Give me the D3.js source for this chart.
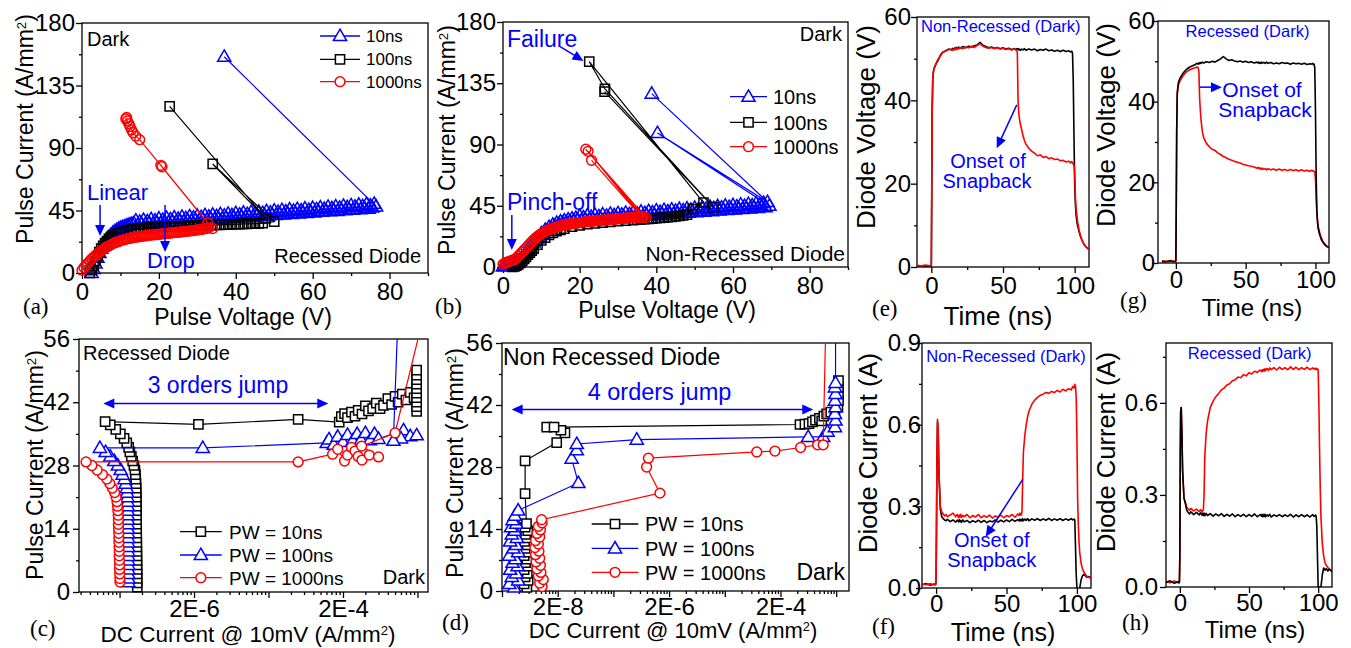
<!DOCTYPE html>
<html>
<head>
<meta charset="utf-8">
<script src="https://cdn.jsdelivr.net/npm/d3@7"></script>
<style>
  body { margin: 0; background: #fff; }
  svg { display: block; }
</style>
</head>
<body>
<svg id="fig" width="1351" height="648"></svg>
<script>
"use strict";

// ---- (a) recessed diode, TLP I-V ----
const aV10 = [2.5,3,3.5,4,4.5,5,5.5,6,6.5,7, 7.5,8,8.5,9,9.5,10,10.5,11,11.5,12,
  12.5,13,13.5,14,14.5,15,15.5,16,16.5,17, 17.5,18,18.5,19,19.5,20,20.5,21,21.5,22,
  22.5,23,23.5,24,24.5,25,25.5,26,26.5,27, 27.5,28,28.5,29,29.5,30,30.5,31,31.5,32,
  32.5,33,33.5,34,34.5,35,35.5,36,36.5,37, 37.5,38,38.5,39,39.5,40,40.5,41,41.5,42,
  42.5,43,43.5,44,44.5,45,45.5,46,46.5,47, 47.5,48,48.5,49,49.5,50,50.5,51,51.5,52,
  52.5,53,53.5,54,54.5,55,55.5,56,56.5,57, 57.5,58,58.5,59,59.5,60,60.5,61,61.5,62,
  62.5,63,63.5,64,64.5,65,65.5,66,66.5,67, 67.5,68,68.5,69,69.5,70,70.5,71,71.5,72,
  72.5,73,73.5,74,74.5,75,75.5,76,76.5,37];
const aI10 = [0,3,7,11,14.5,17.5,20,22.5,24.5,26, 27.5,29,30,31,31.8,32.5,33,33.5,34,34.5,
  35,35.5,35.8,37.8,34.6,36.9,35.5,38.3,35.1,37.4, 36.0,38.8,35.6,37.9,36.5,39.3,36.1,38.3,36.9,39.7,
  36.5,38.7,37.3,40.1,36.9,39.1,37.7,40.5,37.3,39.5, 38.1,40.9,37.7,39.9,38.5,41.3,38.1,40.3,38.9,41.7,
  38.5,40.6,39.2,42.0,38.8,41.0,39.6,42.4,39.2,41.4, 40.0,42.7,39.5,41.7,40.3,43.1,39.9,42.1,40.7,43.5,
  40.3,42.5,41.1,43.9,40.7,42.9,41.5,44.2,41.0,43.2, 41.8,44.6,41.4,43.6,42.2,45.0,41.8,44.0,42.6,45.4,
  42.2,44.4,43.0,45.8,42.6,44.8,43.4,46.1,42.9,45.1, 43.7,46.5,43.3,45.5,44.1,46.9,43.7,45.9,44.5,47.3,
  44.1,46.3,44.9,47.7,44.5,46.7,45.3,48.0,44.8,47.0, 45.6,48.4,45.2,47.4,46.0,48.8,45.6,47.8,46.4,49.2,
  46.0,48.2,46.8,49.6,46.4,48.6,47.2,49.9,48.0,155.7];
const aV100 = [2,2.5,3,3.5,4,4.5,5,5.5,6,6.5, 7,7.5,8,9,10,11,12,13,14,15, 16,17,18,19,20,21,22,23,24,25,
  26,27,28,29,30,31,32,33,34,35, 36,37,38,39,40,41,42,43,44,45, 46,47,50,34,47.8,22.8];
const aI100 = [0,2,5,8.5,12,15,17.5,19.5,21.5,23, 24.5,25.8,27,28.4,29.4,30.2,30.8,31.3,31.7,32,
  32.3,32.5,32.7,32.9,33.1,33.2,33.3,33.4,33.5,33.6, 33.7,33.8,33.9,34,34.1,34.2,34.3,34.4,34.5,34.6,
  34.7,34.8,34.9,35,35.1,35.2,35.3,35.4,35.5,35.6, 35.7,35.9,37,78.5,39.4,120];
const aV1000 = [0,0.5,1,1.5,2,2.5,3,3.5,4,4.5, 5,5.5,6,6.5,7,7.5,8,8.5,9,9.5,
  10,10.5,11,11.5,12,12.5,13,13.5,14,14.5, 15,15.5,16,16.5,17,17.5,18,18.5,19,19.5,
  20,20.5,21,21.5,22,22.5,23,23.5,24,24.5, 25,25.5,26,26.5,27,27.5,28,28.5,29,29.5,
  30,30.5,31,31.5,32,32.5,33,34,32.7,20.8, 20.5,15,14,13.3,12.9,12.5,12.2,11.8,11.4,11.6];
const aI1000 = [2,4,5.5,7,8.5,10,11.3,12.6,13.8,15, 16,17,18,18.8,19.6,20.3,21,21.8,22.2,22.6,
  23.2,23.7,24,24.4,24.7,25.0,25.3,25.5,25.8,26.0, 26.2,26.4,26.6,26.8,27,27.2,27.3,27.5,27.6,27.7,
  27.9,28.0,28.2,28.3,28.5,28.6,28.8,28.9,29.1,29.2, 29.4,29.5,29.7,29.8,30,30.1,30.3,30.5,30.6,30.8,
  31,31.2,31.4,31.6,31.9,32.2,32.5,32,36,76.5, 77.5,96,98.5,101,103,105.5,107.5,109.5,111,112];

// ---- (b) non-recessed diode, TLP I-V ----
const bV10 = [0,0.5,1,1.5,2,2.5,3,3.5,4,4.5, 5,5.5,6,6.5,7,7.5,8,8.5,9,9.5,
  10,10.5,11,11.5,12,12.5,13,13.5,14,14.5, 15,15.5,16,16.5,17,17.5,18,18.5,19,19.5,
  20,20.5,21,21.5,22,22.5,23,23.5,24,24.5, 25,25.5,26,26.5,27,27.5,28,28.5,29,29.5,
  30,30.5,31,31.5,32,32.5,33,33.5,34,34.5, 35,35.5,36,36.5,37,37.5,38,38.5,39,39.5,
  40,40.5,41,41.5,42,42.5,43,43.5,44,44.5, 45,45.5,46,46.5,47,47.5,48,48.5,49,49.5,
  50,50.5,51,51.5,52,52.5,53,53.5,54,54.5, 55,55.5,56,56.5,57,57.5,58,58.5,59,59.5,
  60,60.5,61,61.5,62,62.5,63,63.5,64,64.5, 65,65.5,66,66.5,67,67.5,68,68.5,69.5,40.3,
  69,38.8];
const bI10 = [0.5,0.8,1,1.3,1.6,2,2.6,3.4,4.5,6, 7.5,9.2,11,12.8,14.5,16.3,18,19.5,21,22.5,
  24.8,24.5,27.3,26.8,29.4,28.7,31.1,30.2,32.4,31.4, 33.5,32.3,34.3,33.1,35.0,33.7,35.6,34.3,36.1,34.7,
  37.5,34.3,36.5,35.1,37.9,34.7,36.9,35.5,38.3,35.1, 37.3,35.9,38.7,35.5,37.7,36.3,39.1,35.9,38.1,36.7,
  39.5,36.3,38.5,37.1,39.9,36.7,38.9,37.5,40.3,37.1, 39.3,37.9,40.7,37.5,39.7,38.3,41.1,37.9,40.1,38.7,
  41.5,38.3,40.5,39.1,41.9,38.7,40.9,39.5,42.3,39.1, 41.3,39.9,42.7,39.5,41.7,40.3,43.1,39.9,42.1,40.7,
  43.5,40.3,42.5,41.1,43.9,40.7,42.9,41.5,44.3,41.1, 43.3,41.9,44.7,41.5,43.7,42.3,45.1,41.9,44.1,42.7,
  45.5,42.3,44.5,43.1,45.9,42.7,44.9,43.5,46.3,43.1, 45.3,43.9,46.7,43.5,45.7,44.3,47.1,43.9,45.0,98.5,
  47.8,127.4];
const bV100 = [2.5,3,3.5,4,4.5,5,5.5,6,6.5,7, 7.5,8,9,10,11,12,13,14,15,16, 18,20,22,24,26,28,30,32,34,35,
  36,37,38,39,40,41,42,43,44,45, 46,47,48,49.5,52.3,22.5,26.6,54.9,26.5];
const bI100 = [0,0.5,1,2,3,4.5,6,7.5,9,10.5, 12,13.5,16.5,19.5,21.5,23.5,25,26.3,27.3,28.2,
  29.6,30.6,31.4,32,32.6,33.1,33.6,34,34.5,34.7, 35,35.2,35.4,35.6,35.8,36.1,36.3,36.6,36.8,37.1,
  37.5,37.9,38.5,42.6,47.3,150.9,130.8,44,128.9];
const bV1000 = [0,0.5,1,1.5,2,2.5,3,3.5,4,4.5, 5,5.5,6,6.5,7,7.5,8,8.5,9,9.5,
  10,10.5,11,11.5,12,12.5,13,13.5,14,14.5, 15,15.5,16,16.5,17,17.5,18,18.5,19,19.5,
  20,20.5,21,21.5,22,22.5,23,23.5,24,24.5, 25,25.5,26,26.5,27,27.5,28,28.5,29,29.5,
  30,30.5,31,31.5,32,32.5,33,33.5,34,34.5, 35,35.5,36,36.5,37.3,21.6,36.6,22.2,36.2,23.1];
const bI1000 = [2,3,3.5,4,4.5,5,5.5,6.5,8,9.5, 11,12.5,14,15.5,17,18.5,20,21.3,22.5,23.5,
  24.5,25.3,26,26.8,27.5,28,28.5,29,29.5,29.9, 30.2,30.5,30.8,31.1,31.3,31.6,31.8,32,32.2,32.4,
  32.6,32.8,33,33.2,33.3,33.5,33.6,33.8,33.9,34, 34.1,34.3,34.4,34.5,34.6,34.8,34.9,35,35.1,35.3,
  35.4,35.5,35.6,35.8,35.9,36,36.1,36.3,36.4,36.5, 36.6,36.7,36.8,36.9,36.3,86.5,36.8,85,36.5,78.4];

// ---- (c) recessed diode, pulse current vs DC leakage ----
const cX10 = [3.46e-7,3.45e-7,3.45e-7,3.44e-7,3.44e-7,3.43e-7,3.43e-7,3.42e-7,3.42e-7,3.41e-7,
  3.41e-7,3.4e-7,3.4e-7,3.39e-7,3.39e-7,3.38e-7,3.38e-7,3.37e-7,3.37e-7,3.36e-7,
  3.36e-7,3.35e-7,3.34e-7,3.33e-7,3.3e-7,3.27e-7,3.22e-7,3.12e-7,3.0e-7,2.88e-7,
  2.75e-7,2.65e-7,2.5e-7,2.3e-7,2.05e-7,1.78e-7,1.5e-7,1.28e-7,2.29e-6,5.0e-5,
  1.78e-4,1.9e-4,2.1e-4,2.3e-4,2.6e-4,2.9e-4,3.2e-4,3.6e-4,4e-4,4.4e-4,
  5e-4,5.6e-4,6.3e-4,7e-4,8e-4,9e-4,1.0e-3,1.1e-3,1.25e-3,1.4e-3,
  1.6e-3,1.8e-3,1.95e-3,1.95e-3,1.95e-3,1.95e-3,1.95e-3,1.95e-3,1.95e-3,1.95e-3, 1.95e-3,1.95e-3];
const cI10 = [1.1,2,3,4,5,6,7,8,9,10, 11,12,13,14,15,16,17,18,19,20, 21,22,23,24,25,26,27,28,29,30,
  31,32,33,34,35,36,37,37.7,37.1,38.2, 37.6,38.8,39.5,38.6,39.8,38.9,40.2,39.4,41.2,40.1,
  40.6,41.8,40.6,41.3,42.8,41.5,43.3,42,43.8,42.5, 44.2,43,40,41,42,43,44,45,46,47, 48,49.1];
const cX100 = [2.63e-7,2.63e-7,2.62e-7,2.62e-7,2.62e-7,2.61e-7,2.61e-7,2.61e-7,2.6e-7,2.6e-7,
  2.6e-7,2.6e-7,2.59e-7,2.59e-7,2.59e-7,2.58e-7,2.58e-7,2.58e-7,2.57e-7,2.55e-7,
  2.53e-7,2.5e-7,2.42e-7,2.33e-7,2.2e-7,2.07e-7,1.9e-7,1.7e-7,1.5e-7,1.3e-7,
  1.09e-7,2.62e-6,1.21e-4,1.3e-4,1.5e-4,1.7e-4,2e-4,2.3e-4,2.7e-4,3.1e-4,
  3.5e-4,4e-4,4.6e-4,5.3e-4,6e-4,1.3e-3,1.6e-3,1.95e-3,1.2e-3,9.5e-4, 1.1e-3];
const cI100 = [2.2,3,4,5,6,7,8,9,10,11, 12,13,14,15,16,17,18,19,20,21, 22,23,24,25,26,27,28,29,30,31,
  31.9,31.9,33,33.8,32.6,34.4,33.2,34.8,33.5,35, 33.7,35.2,33.6,35,33.9,35.8,34.5,34.7,34,33.5, 62];
const cX1000 = [2.03e-7,2.02e-7,2.01e-7,2e-7,2e-7,1.99e-7,1.98e-7,1.98e-7,1.97e-7,1.96e-7,
  1.96e-7,1.95e-7,1.94e-7,1.93e-7,1.93e-7,1.92e-7,1.9e-7,1.88e-7,1.85e-7,1.8e-7,
  1.72e-7,1.6e-7,1.48e-7,1.35e-7,1.18e-7,1.0e-7,8.5e-8,7.1e-8,5.0e-5,1.45e-4,
  1.7e-4,2.1e-4,2.3e-4,2.6e-4,2.9e-4,3.2e-4,3.6e-4,4.5e-4,6e-4,3.56e-4, 1.0e-3,2.1e-3];
const cI1000 = [2.2,3,4,5,6,7,8,9,10,11, 12,13,14,15,16,17,18,19,20,21, 22,23,24,25,26,27,28,28.8,28.8,30.5,
  31.6,29,30.3,32,31.2,30,29.2,30.3,29.9,32.3, 35.2,57];

// ---- (d) non-recessed diode, pulse current vs DC leakage ----
const dX10 = [5.6e-9,5.0e-9,5.9e-9,5.2e-9,5.7e-9,5.0e-9,5.8e-9,5.3e-9,5.6e-9,5.0e-9,
  5.9e-9,5.2e-9,5.7e-9,5.1e-9,5.6e-9,5.3e-9,5.8e-9,5.2e-9,5.5e-9,5.2e-9,
  5.2e-9,1.92e-8,2.7e-8,2.29e-8,1.27e-8,1.72e-8,4.48e-4,5.5e-4,6.5e-4,7.5e-4,
  8.5e-4,1.0e-3,1.1e-3,1.2e-3,1.35e-3,1.6e-3,1.9e-3,2.15e-3,2.2e-3,2.2e-3, 2.2e-3,2.2e-3];
const dI10 = [0.8,1.6,2.4,3.2,4,4.8,5.6,6.4,7.2,8, 8.8,9.6,10.4,11.2,12,12.8,13.6,14.4,15.2,22,
  29.4,33.5,35.7,36.3,37,37,37.6,37.7,37.8,38.2, 38.6,39,38.4,39.5,40,40.4,40,41.5,43,44.5, 46,47.5];
const dX100 = [3.3e-9,2.7e-9,3.9e-9,3.0e-9,3.6e-9,2.8e-9,3.8e-9,3.1e-9,3.5e-9,2.7e-9,
  3.9e-9,3.2e-9,3.6e-9,2.8e-9,3.7e-9,3.0e-9,3.4e-9,2.9e-9,3.6e-9,3.1e-9,
  3.4e-9,3.9e-9,4.7e-8,3.56e-8,4.4e-8,4.4e-8,5.25e-7,6.3e-4,1.17e-3,1.4e-3,
  1.9e-3,1.95e-3,1.9e-3,1.95e-3,1.9e-3,1.95e-3,1.9e-3,1.95e-3,1.95e-3];
const dI100 = [0.8,1.6,2.4,3.2,4,4.8,5.6,6.4,7.2,8, 8.8,9.6,10.4,11.2,12,12.8,13.6,14.4,15.2,16,
  17,18.2,24.4,29.9,31.8,33.2,34.2,34.8,34.8,36, 37,38.5,40,41.5,43,44.5,46,47,60];
const dX1000 = [1.05e-8,9.5e-9,1.1e-8,9e-9,1.0e-8,8.5e-9,9.8e-9,8.2e-9,9.5e-9,8e-9,
  9.2e-9,7.8e-9,9e-9,8e-9,9.5e-9,8.5e-9,9.8e-9,9e-9,1.05e-8,1.03e-8,
  1.37e-6,7.9e-7,8.5e-7,7.5e-5,1.59e-4,4.6e-4,9.3e-4,1.17e-3,1.3e-3];
const dI1000 = [1,1.8,2.6,3.4,4.2,5,5.8,6.6,7.4,8.2, 9,9.8,10.6,11.4,12.2,13,13.8,14.6,15.4,16.1,
  22.1,28,30,31.4,31.6,32.4,33,33,60];

// ---- (e)-(h) transient waveforms, shared time base (ns) ----
const tNs = [-10,-7,-4,-1,-0.3,0,0.3,0.6,1,1.5, 2,3,4,5,6,7,8,10,12,14,
  15,16,16.5,17,17.5,18,19,20,22,24, 26,28,30,32,34,36,38,40,42,44,
  46,48,50,52,54,56,58,59,59.5,60, 60.5,61,61.5,62,63,64,65,66,68,70,
  72,74,76,78,80,82,84,86,88,90, 92,94,96,97,98,98.5,99,99.5,100,100.5,
  101,101.5,102,103,104,105,106,107,108,110];
const eVblack = [0.2,0.3,0.2,0.3,0.2,0.5,18,38,45,47, 47.8,48.6,49.2,49.8,50.6,51.2,51.5,51.9,52.3,52.1,
  52.5,52.2,52.6,52.3,52.7,52.4,52.8,52.5,52.9,52.6, 53,52.8,53.1,53.3,53.9,53.2,52.9,52.6,52.8,52.5,
  52.7,52.4,52.6,52.3,52.5,52.2,52.4,52.1,52.4,52.2, 52.4,52.1,52.3,52,52.3,52.1,52.4,52,52.3,52.1,
  52.3,51.9,52.2,52,52.3,51.9,52.1,51.8,52,51.7, 52,51.7,51.9,51.6,51.8,51.3,45,32,20,15,
  12.5,11,10,8.6,7.4,6.5,5.8,5.2,4.8,4.2];
const eVred = [0.4,0.3,0.5,0.3,0.4,0.6,18,38,45,47, 47.6,48.5,49.4,50,50.5,51,51.6,51.8,52.2,52.3,
  52,52.4,52.1,52.5,52.2,52.6,52.3,52.7,52.4,52.8, 52.6,53,52.7,53.2,53.6,53,52.7,52.5,52.7,52.4,
  52.6,52.3,52.5,52.2,52.4,52.1,52.3,52.2,52,51.5, 40,37,35.5,34.5,33,31.5,30.3,29.5,28.5,27.8,
  27.3,26.7,26.9,26.3,26.5,26,26.2,25.8,25.9,25.5, 25.6,25.2,25.4,25,25.3,25,24.7,24.5,23,17,
  14,12.5,11,9,7.6,6.6,5.8,5.2,4.8,4.1];
const gVblack = [0.4,0.3,0.5,0.3,0.4,0.5,15,33,42,44, 45,45.8,46.4,47,47.4,47.8,48.1,48.6,48.9,49.2,
  49.5,49.3,49.6,49.4,49.7,49.5,49.8,49.6,49.9,49.7, 50,49.8,50.2,50.6,51.2,50.6,50.2,50.4,50.1,49.9,
  50.1,49.8,50,49.7,49.9,49.6,49.8,49.6,49.8,49.5, 49.7,49.5,49.8,49.6,49.7,49.5,49.8,49.5,49.7,49.4,
  49.6,49.4,49.7,49.5,49.6,49.3,49.6,49.4,49.5,49.3, 49.5,49.2,49.4,49.3,49.5,49.2,49.3,48.5,38,22,
  13,10,8.5,7,6,5.3,4.8,4.4,4.1,3.8];
const gVred = [0.5,0.4,0.6,0.4,0.5,0.6,15,33,42,43.5, 44.3,45.2,45.8,46.3,46.8,47.2,47.5,47.9,48.2,48.4,
  48.6,48.4,47.5,41,38,35.5,32.5,31,29.6,28.8, 28.2,27.9,27.3,26.9,26.4,26.1,25.7,25.5,25.2,25,
  24.8,24.5,24.3,24.1,24,23.8,23.5,23.7,23.4,23.6, 23.3,23.5,23.2,23.5,23.2,23.4,23.1,23.4,23.1,23.3,
  23,23.3,23,23.2,22.9,23.2,22.9,23.1,22.8,23.1, 22.8,23,22.7,23,22.8,22.9,22.7,22.5,21,16,
  12.5,10.5,9,7.6,6.4,5.6,5,4.6,4.2,3.8];
const fIblack = [0.012,0.016,0.01,0.015,0.012,0.03,0.22,0.46,0.61,0.57, 0.42,0.29,0.262,0.255,0.25,0.247,0.252,0.244,0.25,0.242,
  0.249,0.243,0.251,0.244,0.248,0.241,0.25,0.243,0.248,0.24, 0.247,0.242,0.249,0.241,0.248,0.24,0.246,0.243,0.25,0.242,
  0.249,0.243,0.25,0.244,0.252,0.245,0.251,0.246,0.253,0.247, 0.252,0.246,0.254,0.247,0.253,0.248,0.255,0.247,0.254,0.249,
  0.255,0.248,0.254,0.249,0.256,0.248,0.254,0.249,0.255,0.248, 0.254,0.249,0.255,0.25,0.253,0.25,0.15,0.05,0,-0.01,
  -0.02,-0.015,0,0.03,0.045,0.05,0.045,0.04,0.042,0.038];
const fIred = [0.015,0.012,0.016,0.011,0.014,0.03,0.22,0.46,0.62,0.58, 0.44,0.3,0.28,0.272,0.265,0.27,0.262,0.268,0.275,0.262,
  0.27,0.258,0.268,0.262,0.271,0.259,0.267,0.262,0.27,0.258, 0.266,0.261,0.27,0.258,0.266,0.26,0.268,0.257,0.265,0.26,
  0.268,0.258,0.266,0.262,0.27,0.26,0.272,0.266,0.275,0.27, 0.268,0.28,0.4,0.5,0.56,0.6,0.63,0.65,0.675,0.69,
  0.7,0.708,0.712,0.718,0.715,0.722,0.718,0.726,0.72,0.73, 0.724,0.732,0.728,0.74,0.735,0.748,0.742,0.7,0.55,0.33,
  0.23,0.17,0.13,0.09,0.07,0.058,0.05,0.043,0.04,0.035];
const hIblack = [0.015,0.02,0.012,0.018,0.014,0.1,0.42,0.57,0.585,0.5, 0.38,0.29,0.272,0.25,0.243,0.238,0.245,0.236,0.243,0.235,
  0.242,0.234,0.24,0.233,0.241,0.232,0.24,0.233,0.239,0.231, 0.238,0.232,0.239,0.23,0.237,0.231,0.238,0.229,0.236,0.23,
  0.237,0.229,0.236,0.23,0.238,0.229,0.236,0.231,0.237,0.229, 0.236,0.23,0.237,0.229,0.235,0.231,0.237,0.228,0.235,0.23,
  0.236,0.229,0.235,0.23,0.237,0.228,0.235,0.229,0.236,0.229, 0.235,0.228,0.236,0.23,0.234,0.232,0.2,0.1,0,0,
  0,0,0,0.04,0.062,0.055,0.06,0.052,0.058,0.05];
const hIred = [0.018,0.014,0.02,0.013,0.017,0.1,0.42,0.57,0.585,0.5, 0.38,0.29,0.275,0.26,0.255,0.25,0.256,0.248,0.254,0.246,
  0.252,0.245,0.25,0.25,0.3,0.42,0.5,0.54,0.585,0.605, 0.62,0.63,0.642,0.648,0.658,0.662,0.672,0.675,0.684,0.682,
  0.692,0.688,0.698,0.694,0.703,0.699,0.707,0.702,0.708,0.703, 0.709,0.704,0.711,0.705,0.712,0.706,0.714,0.708,0.715,0.707,
  0.716,0.709,0.715,0.708,0.717,0.709,0.716,0.708,0.715,0.709, 0.716,0.708,0.714,0.71,0.713,0.708,0.712,0.71,0.708,0.6,
  0.45,0.32,0.23,0.14,0.1,0.078,0.07,0.064,0.058,0.054];

// ---- tick values ----
const vTicks = [0,20,40,60,80], vMinor = [10,30,50,70,90];
const pTicks = [0,45,90,135,180], pMinor = [22.5,67.5,112.5,157.5];
const jTicks = [0,14,28,42,56], jMinor = [7,21,35,49];
const tTicks = [0,50,100], tMinor = [25,75];
const voltTicks = [0,20,40,60], voltMinor = [10,30,50];
const ampTicksF = [0,0.3,0.6,0.9], ampTicksH = [0,0.3,0.6], ampMinor = [0.15,0.45,0.75];
const cLogMajor = [2e-7,2e-6,2e-5,2e-4,2e-3], cLogLabels = [2e-6,2e-4];
const dLogMajor = [2e-9,2e-8,2e-7,2e-6,2e-5,2e-4,2e-3], dLogLabels = [2e-8,2e-6,2e-4];

const FONT = '"Liberation Sans", Arial, Helvetica, sans-serif';
const SERIF = '"Liberation Serif", "Times New Roman", serif';
const BLUE = "#0000ff", RED = "#ff0000", BLACK = "#000000";

const SHAPE = {
  tri: "M0,-6.8L6.6,4.6L-6.6,4.6Z",
  sq: "M-4.6,-4.6H4.6V4.6H-4.6Z",
  circ: "M4.9,0A4.9,4.9 0 1,1 -4.9,0A4.9,4.9 0 1,1 4.9,0Z"
};

const svg = d3.select("#fig");

function styleAxis(sel) {
  sel.attr("font-size", null).attr("font-family", null);
  sel.select(".domain").remove();
  sel.selectAll(".tick line").attr("stroke", "#000").attr("stroke-width", 1.3);
  sel.selectAll(".tick text").attr("font-size", 24).attr("font-family", FONT).attr("fill", "#000");
}

// minor ticks of Origin-style log axes: 2E-n * k
function logMinor(scale) {
  const [lo, hi] = scale.domain();
  const out = [];
  for (let n = -10; n <= -2; n++) {
    for (let k = 2; k <= 9; k++) {
      const v = 2 * k * Math.pow(10, n);
      if (v > lo && v < hi) out.push(v);
    }
  }
  return out;
}

function logFmt(labels) {
  return d => labels.some(v => Math.abs(v - d) / v < 1e-6) ? "2E" + Math.round(Math.log10(d / 2)) : "";
}

function panel(c) {
  const [l, t, r, b] = c.box;
  const x = c.x.range([l, r]);
  const y = c.y.range([b, t]);
  const g = svg.append("g");
  const id = "clip-" + c.id;
  svg.append("clipPath").attr("id", id)
    .append("rect").attr("x", l).attr("y", t).attr("width", r - l).attr("height", b - t);

  const xMinor = c.xMinor || logMinor(x);
  g.append("g").attr("transform", `translate(0,${b})`)
    .call(d3.axisBottom(x).tickValues(c.xMajor).tickSize(6).tickPadding(c.xPad == null ? 4 : c.xPad).tickFormat(c.xFmt))
    .call(styleAxis);
  g.append("g").attr("transform", `translate(0,${b})`)
    .call(d3.axisBottom(x).tickValues(xMinor).tickSize(3).tickFormat(() => ""))
    .call(styleAxis);
  g.append("g").attr("transform", `translate(${l},0)`)
    .call(d3.axisLeft(y).tickValues(c.yMajor).tickSize(6).tickPadding(c.yPad).tickFormat(c.yFmt))
    .call(styleAxis);
  g.append("g").attr("transform", `translate(${l},0)`)
    .call(d3.axisLeft(y).tickValues(c.yMinor).tickSize(3).tickFormat(() => ""))
    .call(styleAxis);

  g.append("rect")
    .attr("x", l).attr("y", t).attr("width", r - l).attr("height", b - t)
    .attr("fill", "none").attr("stroke", "#000").attr("stroke-width", 1.3);

  return { g, x, y, l, t, r, b, clip: `url(#${id})` };
}

function series(p, xs, ys, color, shape, fill) {
  const pts = d3.zip(xs, ys);
  const line = d3.line().x(d => p.x(d[0])).y(d => p.y(d[1]));
  const s = p.g.append("g");
  s.append("path").datum(pts)
    .attr("clip-path", p.clip)
    .attr("d", line)
    .attr("fill", "none").attr("stroke", color).attr("stroke-width", 1.2);
  const [lo, hi] = p.y.domain();
  s.selectAll(null)
    .data(pts.filter(d => d[1] >= lo && d[1] <= hi))
    .join("path")
    .attr("transform", d => `translate(${p.x(d[0])},${p.y(d[1])})`)
    .attr("d", SHAPE[shape])
    .attr("fill", fill).attr("stroke", color).attr("stroke-width", 1.5);
}

function trace(p, ts, vs, color) {
  p.g.append("path").datum(d3.zip(ts, vs))
    .attr("clip-path", p.clip)
    .attr("d", d3.line().x(d => p.x(d[0])).y(d => p.y(d[1])))
    .attr("fill", "none").attr("stroke", color)
    .attr("stroke-width", 1.6).attr("stroke-linejoin", "round");
}

function label(x, y, str, size, color, anchor) {
  return svg.append("text")
    .attr("x", x).attr("y", y).text(str)
    .attr("font-family", FONT).attr("font-size", size)
    .attr("fill", color || "#000").attr("text-anchor", anchor || "start");
}

// text with a superscript "2" (A/mm^2)
function richTitle(x, y, parts, size, rotate) {
  const t = svg.append("text")
    .attr("font-family", FONT).attr("font-size", size).attr("fill", "#000")
    .attr("text-anchor", "middle")
    .attr("transform", `translate(${x},${y})` + (rotate ? " rotate(-90)" : ""));
  parts.forEach(([s, sup]) => {
    const sp = t.append("tspan").text(s);
    if (sup) sp.attr("font-size", size * 0.58).attr("baseline-shift", "super");
  });
  return t;
}

function arrow(p, from, to, color, both) {
  const x1 = p.x(from[0]), y1 = p.y(from[1]);
  const x2 = p.x(to[0]), y2 = p.y(to[1]);
  const ang = Math.atan2(y2 - y1, x2 - x1);
  const L = 11, W = 5;
  const head = (x, y, a) => {
    const bx = x - L * Math.cos(a), by = y - L * Math.sin(a);
    const nx = -Math.sin(a) * W, ny = Math.cos(a) * W;
    p.g.append("path")
      .attr("d", `M${x},${y}L${bx + nx},${by + ny}L${bx - nx},${by - ny}Z`)
      .attr("fill", color);
  };
  const sx = both ? x1 + (L - 2) * Math.cos(ang) : x1;
  const sy = both ? y1 + (L - 2) * Math.sin(ang) : y1;
  p.g.append("line")
    .attr("x1", sx).attr("y1", sy)
    .attr("x2", x2 - (L - 2) * Math.cos(ang)).attr("y2", y2 - (L - 2) * Math.sin(ang))
    .attr("stroke", color).attr("stroke-width", 1.5);
  head(x2, y2, ang);
  if (both) head(x1, y1, ang + Math.PI);
}

function legend(p, x0, x1, xt, rows, size) {
  rows.forEach(r => {
    const y = p.t + r.dy;
    p.g.append("line")
      .attr("x1", p.l + x0).attr("x2", p.l + x1).attr("y1", y).attr("y2", y)
      .attr("stroke", r.color).attr("stroke-width", 1.3);
    p.g.append("path")
      .attr("transform", `translate(${p.l + (x0 + x1) / 2},${y})`)
      .attr("d", SHAPE[r.shape])
      .attr("fill", "#fff").attr("stroke", r.color).attr("stroke-width", 1.5);
    p.g.append("text")
      .attr("x", p.l + xt).attr("y", y).attr("dy", "0.36em")
      .text(r.text).attr("font-family", FONT).attr("font-size", size);
  });
}

function panelTag(x, y, s) {
  svg.append("text").attr("x", x).attr("y", y).text(s)
    .attr("font-family", SERIF).attr("font-size", 23).attr("fill", "#000");
}

const fmtInt = d3.format("d"), fmt1 = d3.format(".1f");
const CURRENT_DENSITY = [["Pulse Current (A/mm"], ["2", true], [")"]];
const DC_CURRENT = [["DC Current @ 10mV (A/mm"], ["2", true], [")"]];

// ================= (a) =================
const pa = panel({ id: "a", box: [82, 23, 428, 273],
  x: d3.scaleLinear().domain([0, 90]), y: d3.scaleLinear().domain([0, 180]),
  xMajor: vTicks, xMinor: vMinor, yMajor: pTicks, yMinor: pMinor,
  xFmt: fmtInt, yFmt: fmtInt, yPad: 1 });
series(pa, aV10, aI10, BLUE, "tri", "none");
series(pa, aV100, aI100, BLACK, "sq", "none");
series(pa, aV1000, aI1000, RED, "circ", "none");
label(pa.l + 5, pa.t + 23, "Dark", 20);
label(pa.r - 7, pa.b - 10, "Recessed Diode", 20, "#000", "end");
label(pa.l + 5, pa.t + 177, "Linear", 22, BLUE);
label(pa.l + 65, pa.t + 245, "Drop", 22, BLUE);
arrow(pa, [4.7, 49], [4.7, 26.6], BLUE);
arrow(pa, [21.6, 49], [21.6, 15.1], BLUE);
legend(pa, 238, 278, 284, [
  { dy: 13, color: BLUE, shape: "tri", text: "10ns" },
  { dy: 36.3, color: BLACK, shape: "sq", text: "100ns" },
  { dy: 58.7, color: RED, shape: "circ", text: "1000ns" }
], 17);
label(243, 325, "Pulse Voltage (V)", 23, "#000", "middle");
richTitle(33, 129, CURRENT_DENSITY, 23, true);
panelTag(23, 314, "(a)");

// ================= (b) =================
const pb = panel({ id: "b", box: [503, 22, 848, 267],
  x: d3.scaleLinear().domain([0, 90]), y: d3.scaleLinear().domain([0, 180]),
  xMajor: vTicks, xMinor: vMinor, yMajor: pTicks, yMinor: pMinor,
  xFmt: fmtInt, yFmt: fmtInt, yPad: 1 });
series(pb, bV10, bI10, BLUE, "tri", "none");
series(pb, bV100, bI100, BLACK, "sq", "none");
series(pb, bV1000, bI1000, RED, "circ", "none");
label(pb.l + 4, pb.t + 25, "Failure", 23, BLUE);
arrow(pb, [14.9, 161.9], [21, 151.4], BLUE);
label(pb.l + 4, pb.t + 188, "Pinch-off", 23, BLUE);
arrow(pb, [2.3, 38.2], [2.3, 12.5], BLUE);
label(pb.r - 6, pb.t + 19, "Dark", 20, "#000", "end");
label(pb.r - 3, pb.b - 6, "Non-Recessed Diode", 21, "#000", "end");
legend(pb, 227, 264, 270, [
  { dy: 74.7, color: BLUE, shape: "tri", text: "10ns" },
  { dy: 100.3, color: BLACK, shape: "sq", text: "100ns" },
  { dy: 124.7, color: RED, shape: "circ", text: "1000ns" }
], 20);
label(667, 318, "Pulse Voltage (V)", 23, "#000", "middle");
richTitle(455, 140, CURRENT_DENSITY, 23, true);
panelTag(435, 314, "(b)");

// ================= (c) =================
const pc = panel({ id: "c", box: [79, 339, 428, 592],
  x: d3.scaleLog().domain([5.71e-8, 2.77e-3]), y: d3.scaleLinear().domain([0, 56]),
  xMajor: cLogMajor, yMajor: jTicks, yMinor: jMinor,
  xFmt: logFmt(cLogLabels), yFmt: fmtInt, yPad: 3, xPad: 2 });
series(pc, cX10, cI10, BLACK, "sq", "#fff");
series(pc, cX100, cI100, BLUE, "tri", "#fff");
series(pc, cX1000, cI1000, RED, "circ", "#fff");
label(pc.l + 4, pc.t + 21, "Recessed Diode", 20);
label(pc.l + 139, pc.t + 54, "3 orders jump", 23, BLUE, "middle");
arrow(pc, [1.21e-7, 41.7], [1.27e-4, 41.7], BLUE, true);
legend(pc, 101, 142.7, 150, [
  { dy: 192.7, color: BLACK, shape: "sq", text: "PW = 10ns" },
  { dy: 216, color: BLUE, shape: "tri", text: "PW = 100ns" },
  { dy: 238.7, color: RED, shape: "circ", text: "PW = 1000ns" }
], 19);
label(pc.r - 3, pc.b - 8, "Dark", 20, "#000", "end");
richTitle(248, 642, DC_CURRENT, 22.5, false);
richTitle(43, 465, CURRENT_DENSITY, 23, true);
panelTag(30, 636, "(c)");

// ================= (d) =================
const pd = panel({ id: "d", box: [502, 343, 849, 591],
  x: d3.scaleLog().domain([2e-9, 3.4e-3]), y: d3.scaleLinear().domain([0, 56]),
  xMajor: dLogMajor, yMajor: jTicks, yMinor: jMinor,
  xFmt: logFmt(dLogLabels), yFmt: fmtInt, yPad: 3, xPad: 1 });
series(pd, dX10, dI10, BLACK, "sq", "#fff");
series(pd, dX100, dI100, BLUE, "tri", "#fff");
series(pd, dX1000, dI1000, RED, "circ", "#fff");
label(pd.l + 1, pd.t + 22, "Non Recessed Diode", 23);
label(pd.l + 157.5, pd.t + 57, "4 orders jump", 23.5, BLUE, "middle");
arrow(pd, [2.98e-9, 41], [7.76e-4, 41], BLUE, true);
legend(pd, 89.7, 136.3, 143, [
  { dy: 181, color: BLACK, shape: "sq", text: "PW = 10ns" },
  { dy: 205.3, color: BLUE, shape: "tri", text: "PW = 100ns" },
  { dy: 229.3, color: RED, shape: "circ", text: "PW = 1000ns" }
], 20);
label(pd.r - 4, pd.b - 11, "Dark", 23, "#000", "end");
richTitle(673, 638, DC_CURRENT, 22, false);
richTitle(463, 463, CURRENT_DENSITY, 23, true);
panelTag(442, 630, "(d)");

// ================= (e) =================
const pe = panel({ id: "e", box: [917, 17, 1089, 267],
  x: d3.scaleLinear().domain([-10, 110]), y: d3.scaleLinear().domain([0, 60]),
  xMajor: tTicks, xMinor: tMinor, yMajor: voltTicks, yMinor: voltMinor,
  xFmt: fmtInt, yFmt: fmtInt, yPad: 0 });
trace(pe, tNs, eVblack, BLACK);
trace(pe, tNs, eVred, RED);
label(pe.l + 83.8, pe.t + 14.7, "Non-Recessed (Dark)", 16.5, BLUE, "middle");
label(pe.l + 71, pe.t + 151, "Onset of", 20, BLUE, "middle");
label(pe.l + 70, pe.t + 171, "Snapback", 20, BLUE, "middle");
arrow(pe, [59.6, 38.9], [45.6, 28.5], BLUE);
label(998, 325, "Time (ns)", 26, "#000", "middle");
richTitle(875, 127, [["Diode Voltage (V)"]], 26, true);
panelTag(872, 316, "(e)");

// ================= (g) =================
const pg = panel({ id: "g", box: [1158, 21, 1329, 263],
  x: d3.scaleLinear().domain([-12.8, 109.7]), y: d3.scaleLinear().domain([0, 60]),
  xMajor: tTicks, xMinor: tMinor, yMajor: voltTicks, yMinor: voltMinor,
  xFmt: fmtInt, yFmt: fmtInt, yPad: -3, xPad: 2 });
trace(pg, tNs, gVred, RED);
trace(pg, tNs, gVblack, BLACK);
label(pg.l + 89.5, pg.t + 15.7, "Recessed (Dark)", 16.5, BLUE, "middle");
label(pg.l + 104, pg.t + 75.7, "Onset of", 21, BLUE, "middle");
label(pg.l + 107, pg.t + 96, "Snapback", 21, BLUE, "middle");
arrow(pg, [17.3, 43.6], [33, 43.6], BLUE);
label(1252, 316, "Time (ns)", 24, "#000", "middle");
richTitle(1115, 125, [["Diode Voltage (V)"]], 26, true);
panelTag(1120, 308, "(g)");

// ================= (f) =================
const pf = panel({ id: "f", box: [922, 343, 1091, 588],
  x: d3.scaleLinear().domain([-10, 110]), y: d3.scaleLinear().domain([0, 0.9]),
  xMajor: tTicks, xMinor: tMinor, yMajor: ampTicksF, yMinor: ampMinor,
  xFmt: fmtInt, yFmt: fmt1, yPad: -5, xPad: 1 });
trace(pf, tNs, fIblack, BLACK);
trace(pf, tNs, fIred, RED);
label(pf.l + 84, pf.t + 18.7, "Non-Recessed (Dark)", 16.5, BLUE, "middle");
label(pf.l + 69.7, pf.t + 203.7, "Onset of", 20, BLUE, "middle");
label(pf.l + 69.7, pf.t + 223.7, "Snapback", 20, BLUE, "middle");
arrow(pf, [61.5, 0.399], [35.2, 0.188], BLUE);
label(1003, 641, "Time (ns)", 25, "#000", "middle");
richTitle(877, 453, [["Diode Current (A)"]], 25.5, true);
panelTag(872, 634, "(f)");

// ================= (h) =================
const ph = panel({ id: "h", box: [1166, 343, 1332, 587],
  x: d3.scaleLinear().domain([-10, 110]), y: d3.scaleLinear().domain([0, 0.795]),
  xMajor: tTicks, xMinor: tMinor, yMajor: ampTicksH, yMinor: ampMinor,
  xFmt: fmtInt, yFmt: fmt1, yPad: 2, xPad: 1 });
trace(ph, tNs, hIred, RED);
trace(ph, tNs, hIblack, BLACK);
label(ph.l + 83.7, ph.t + 15.7, "Recessed (Dark)", 16.5, BLUE, "middle");
label(1255, 638, "Time (ns)", 24, "#000", "middle");
richTitle(1115, 452, [["Diode Current (A)"]], 25.5, true);
panelTag(1122, 630, "(h)");
</script>
</body>
</html>
